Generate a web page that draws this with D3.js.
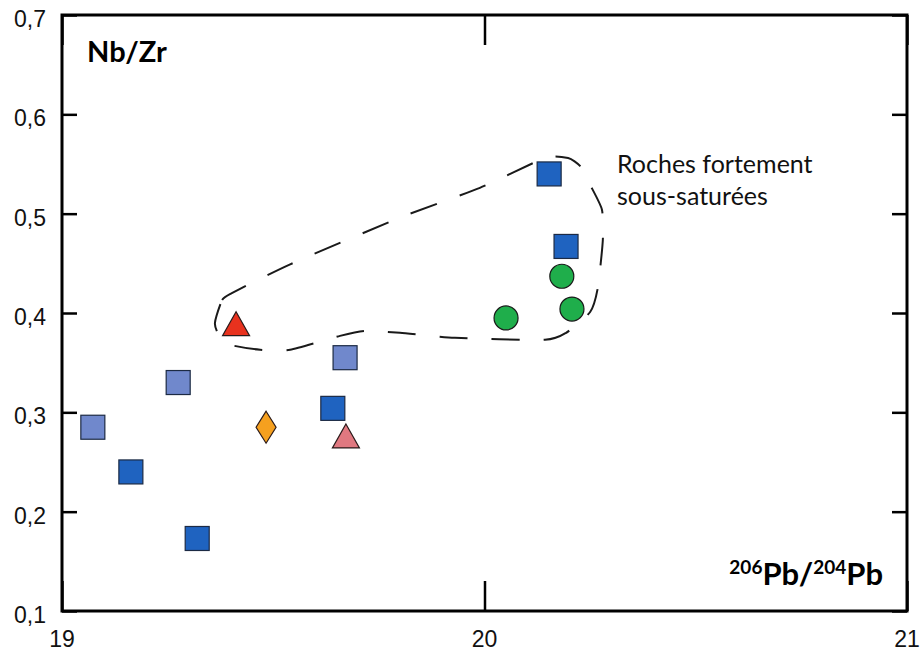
<!DOCTYPE html>
<html>
<head>
<meta charset="utf-8">
<script src="https://cdn.jsdelivr.net/npm/d3@7"></script>
<style>
  html, body { margin: 0; padding: 0; background: #fff; }
  svg { display: block; }
</style>
</head>
<body>
<script>
// ---------- data ----------
const xTicks = [19, 20, 21];
const yTicks = [0.1, 0.2, 0.3, 0.4, 0.5, 0.6, 0.7];

const lightSquares = [
  { x: 19.073, y: 0.285 },
  { x: 19.275, y: 0.330 },
  { x: 19.670, y: 0.355 }
];
const darkSquares = [
  { x: 19.163, y: 0.240 },
  { x: 19.320, y: 0.173 },
  { x: 19.641, y: 0.304 },
  { x: 20.153, y: 0.540 },
  { x: 20.193, y: 0.467 }
];
const greenCircles = [
  { x: 20.051, y: 0.395 },
  { x: 20.183, y: 0.437 },
  { x: 20.207, y: 0.404 }
];
const redTriangles = [ { x: 19.412, y: 0.388 } ];
const pinkTriangles = [ { x: 19.672, y: 0.275 } ];
const orangeDiamonds = [ { x: 19.483, y: 0.285 } ];

const envelope = [
  [19.362, 0.390], [19.379, 0.413], [19.402, 0.420], [19.540, 0.449],
  [19.800, 0.496], [19.989, 0.526], [20.143, 0.556], [20.198, 0.556],
  [20.226, 0.548], [20.250, 0.529], [20.278, 0.504], [20.280, 0.473],
  [20.268, 0.425], [20.250, 0.401], [20.193, 0.380], [20.143, 0.373],
  [19.930, 0.375], [19.800, 0.380], [19.717, 0.382], [19.658, 0.377],
  [19.540, 0.363], [19.469, 0.363], [19.398, 0.368], [19.371, 0.378]
];

const envelopeLabel = ["Roches fortement", "sous-saturées"];

// ---------- layout ----------
const W = 923, H = 655;
const L = 62, R = 907, T = 15, B = 611;

const svg = d3.select("body").append("svg")
  .attr("width", W).attr("height", H);

const x = d3.scaleLinear().domain([19, 21]).range([L, R]);
const y = d3.scaleLinear().domain([0.1, 0.7]).range([B, T]);

const fmt = d => d3.format(".1f")(d).replace(".", ",");
const tickFont = "'Liberation Sans', Arial, sans-serif";
const calibri = "Lato, 'Open Sans', sans-serif";

// axes (ticks inward)
const axL = svg.append("g").attr("transform", `translate(${L},0)`)
  .call(d3.axisRight(y).tickValues(yTicks).tickSize(15).tickFormat(""));
const axR = svg.append("g").attr("transform", `translate(${R},0)`)
  .call(d3.axisLeft(y).tickValues(yTicks).tickSize(15).tickFormat(""));
const axB = svg.append("g").attr("transform", `translate(0,${B})`)
  .call(d3.axisTop(x).tickValues(xTicks).tickSize(30).tickFormat(""));
const axT = svg.append("g").attr("transform", `translate(0,${T})`)
  .call(d3.axisBottom(x).tickValues(xTicks).tickSize(30).tickFormat(""));
[axL, axR, axB, axT].forEach(g => {
  g.select(".domain").remove();
  g.selectAll("line").attr("stroke", "#000").attr("stroke-width", 2.5);
});

// frame
svg.append("rect")
  .attr("x", L).attr("y", T).attr("width", R - L).attr("height", B - T)
  .attr("fill", "none").attr("stroke", "#000").attr("stroke-width", 3);

// tick labels
svg.append("g").selectAll("text").data(yTicks).join("text")
  .attr("x", 46).attr("y", d => y(d) + 12)
  .attr("text-anchor", "end")
  .attr("font-family", tickFont).attr("font-size", 23).attr("fill", "#111")
  .text(fmt);
svg.append("g").selectAll("text").data(xTicks).join("text")
  .attr("x", d => x(d)).attr("y", 647)
  .attr("text-anchor", "middle")
  .attr("font-family", tickFont).attr("font-size", 23).attr("fill", "#111")
  .text(d => d);

// axis titles
svg.append("text").attr("x", 87).attr("y", 62)
  .attr("font-family", calibri).attr("font-weight", "bold").attr("font-size", 29)
  .attr("fill", "#000").text("Nb/Zr");

const xt = svg.append("text").attr("x", 883).attr("y", 585)
  .attr("text-anchor", "end")
  .attr("font-family", calibri).attr("font-weight", "bold").attr("font-size", 31)
  .attr("fill", "#000");
xt.append("tspan").attr("font-size", 19).attr("dy", -11).text("206");
xt.append("tspan").attr("dy", 11).text("Pb/");
xt.append("tspan").attr("font-size", 19).attr("dy", -11).text("204");
xt.append("tspan").attr("dy", 11).text("Pb");

// envelope
svg.append("path")
  .datum(envelope)
  .attr("d", d3.line().x(d => x(d[0])).y(d => y(d[1])).curve(d3.curveCardinalClosed.tension(0.4)))
  .attr("fill", "none").attr("stroke", "#1a1a1a").attr("stroke-width", 2)
  .attr("stroke-dasharray", "28,24");

svg.append("g").selectAll("text").data(envelopeLabel).join("text")
  .attr("x", 617).attr("y", (d, i) => 173 + i * 32)
  .attr("font-family", calibri).attr("font-size", 25).attr("fill", "#111")
  .text(d => d);

// markers
const stroke = "#1c2a44";

svg.append("g").selectAll("rect").data(lightSquares).join("rect")
  .attr("x", d => x(d.x) - 12).attr("y", d => y(d.y) - 12)
  .attr("width", 24).attr("height", 24)
  .attr("fill", "#7088cc").attr("stroke", stroke).attr("stroke-width", 1.2);

svg.append("g").selectAll("rect").data(darkSquares).join("rect")
  .attr("x", d => x(d.x) - 12).attr("y", d => y(d.y) - 12)
  .attr("width", 24).attr("height", 24)
  .attr("fill", "#1f63c0").attr("stroke", stroke).attr("stroke-width", 1.2);

svg.append("g").selectAll("circle").data(greenCircles).join("circle")
  .attr("cx", d => x(d.x)).attr("cy", d => y(d.y)).attr("r", 12)
  .attr("fill", "#1fae4b").attr("stroke", "#1a1a1a").attr("stroke-width", 1.2);

const tri = (cx, cy, w, h) => `M${cx},${cy - h * 0.55}L${cx + w / 2},${cy + h * 0.45}L${cx - w / 2},${cy + h * 0.45}Z`;
svg.append("g").selectAll("path").data(redTriangles).join("path")
  .attr("d", d => tri(x(d.x), y(d.y), 27, 24))
  .attr("fill", "#e8321e").attr("stroke", "#2a1a1a").attr("stroke-width", 1.2);
svg.append("g").selectAll("path").data(pinkTriangles).join("path")
  .attr("d", d => tri(x(d.x), y(d.y), 27, 24))
  .attr("fill", "#e07880").attr("stroke", "#2a1a1a").attr("stroke-width", 1.2);

const dia = (cx, cy, w, h) => `M${cx},${cy - h / 2}L${cx + w / 2},${cy}L${cx},${cy + h / 2}L${cx - w / 2},${cy}Z`;
svg.append("g").selectAll("path").data(orangeDiamonds).join("path")
  .attr("d", d => dia(x(d.x), y(d.y), 20, 32))
  .attr("fill", "#f5a01f").attr("stroke", "#2a1a1a").attr("stroke-width", 1.2);
</script>
</body>
</html>
